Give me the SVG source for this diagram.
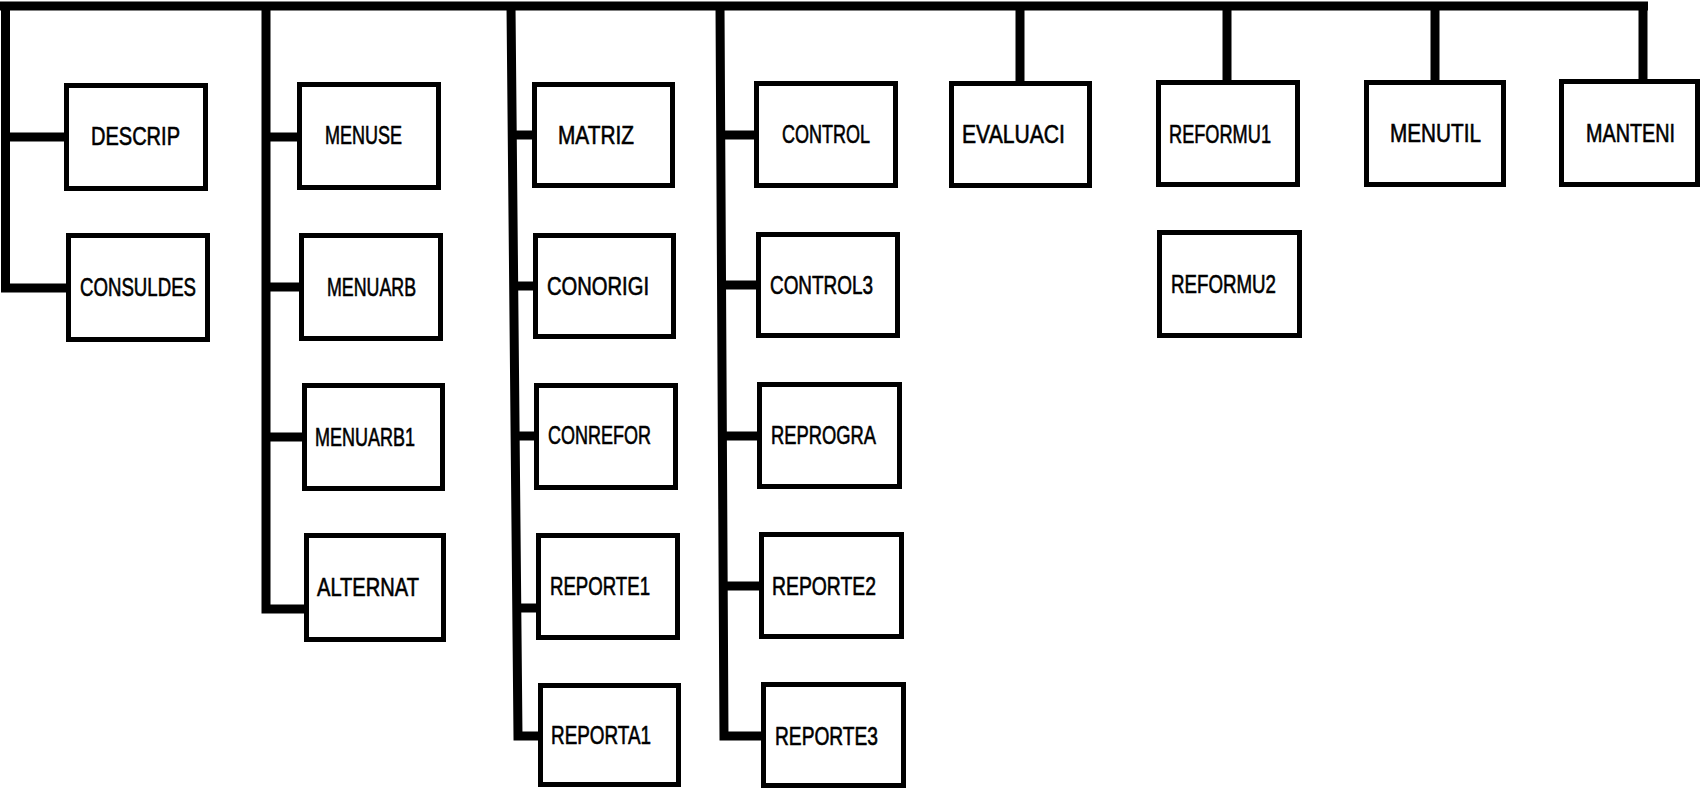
<svg xmlns="http://www.w3.org/2000/svg" width="1701" height="790" viewBox="0 0 1701 790">
<style>
.bg{fill:#fff}
.box rect{fill:#fff;stroke:#000;stroke-width:5}
.box text{font-family:"Liberation Sans",Arial,sans-serif;font-size:25px;fill:#000;stroke:#000;stroke-width:0.6}
.conn path{fill:none;stroke:#000;stroke-width:9;stroke-linejoin:miter;stroke-linecap:butt}
</style>
<rect class="bg" x="0" y="0" width="1701" height="790"/>
<g id="connectors" class="conn">
<path d="M0,6 H1648"/>
<path d="M5.5,6 V288 H66"/>
<path d="M5.5,137 H64"/>
<path d="M266,6 V609 H304"/>
<path d="M266,137 H297"/>
<path d="M266,287 H299"/>
<path d="M266,437 H302"/>
<path d="M511,6 L518,736 H538"/>
<path d="M511,135 H532"/>
<path d="M512,286 H533"/>
<path d="M514,436 H534"/>
<path d="M516,608 H536"/>
<path d="M720,6 L724,736 H761"/>
<path d="M720,135 H754"/>
<path d="M721,285 H756"/>
<path d="M722,436 H757"/>
<path d="M723,586 H759"/>
<path d="M1020,6 V81"/>
<path d="M1227,6 V80"/>
<path d="M1435,6 V80"/>
<path d="M1643,6 V79"/>
</g>
<g id="DESCRIP" class="box"><rect x="66.5" y="85.5" width="139" height="103"/><text x="91" y="145" textLength="89" lengthAdjust="spacingAndGlyphs">DESCRIP</text></g>
<g id="CONSULDES" class="box"><rect x="68.5" y="235.5" width="139" height="104"/><text x="80" y="296" textLength="116" lengthAdjust="spacingAndGlyphs">CONSULDES</text></g>
<g id="MENUSE" class="box"><rect x="299.5" y="84.5" width="139" height="103"/><text x="325" y="144" textLength="77" lengthAdjust="spacingAndGlyphs">MENUSE</text></g>
<g id="MENUARB" class="box"><rect x="301.5" y="235.5" width="139" height="103"/><text x="327" y="296" textLength="89" lengthAdjust="spacingAndGlyphs">MENUARB</text></g>
<g id="MENUARB1" class="box"><rect x="304.5" y="385.5" width="138" height="103"/><text x="315" y="446" textLength="100" lengthAdjust="spacingAndGlyphs">MENUARB1</text></g>
<g id="ALTERNAT" class="box"><rect x="306.5" y="535.5" width="137" height="104"/><text x="317" y="596" textLength="102" lengthAdjust="spacingAndGlyphs">ALTERNAT</text></g>
<g id="MATRIZ" class="box"><rect x="534.5" y="84.5" width="138" height="101"/><text x="558" y="144" textLength="76" lengthAdjust="spacingAndGlyphs">MATRIZ</text></g>
<g id="CONORIGI" class="box"><rect x="535.5" y="235.5" width="138" height="101"/><text x="547" y="295" textLength="102" lengthAdjust="spacingAndGlyphs">CONORIGI</text></g>
<g id="CONREFOR" class="box"><rect x="536.5" y="385.5" width="139" height="102"/><text x="548" y="444" textLength="103" lengthAdjust="spacingAndGlyphs">CONREFOR</text></g>
<g id="REPORTE1" class="box"><rect x="538.5" y="535.5" width="139" height="102"/><text x="550" y="595" textLength="100" lengthAdjust="spacingAndGlyphs">REPORTE1</text></g>
<g id="REPORTA1" class="box"><rect x="540.5" y="685.5" width="138" height="99"/><text x="551" y="744" textLength="100" lengthAdjust="spacingAndGlyphs">REPORTA1</text></g>
<g id="CONTROL" class="box"><rect x="756.5" y="83.5" width="139" height="102"/><text x="782" y="143" textLength="88" lengthAdjust="spacingAndGlyphs">CONTROL</text></g>
<g id="CONTROL3" class="box"><rect x="758.5" y="234.5" width="139" height="101"/><text x="770" y="294" textLength="103" lengthAdjust="spacingAndGlyphs">CONTROL3</text></g>
<g id="REPROGRA" class="box"><rect x="759.5" y="384.5" width="140" height="102"/><text x="771" y="444" textLength="105" lengthAdjust="spacingAndGlyphs">REPROGRA</text></g>
<g id="REPORTE2" class="box"><rect x="761.5" y="534.5" width="140" height="102"/><text x="772" y="595" textLength="104" lengthAdjust="spacingAndGlyphs">REPORTE2</text></g>
<g id="REPORTE3" class="box"><rect x="763.5" y="684.5" width="140" height="101"/><text x="775" y="745" textLength="103" lengthAdjust="spacingAndGlyphs">REPORTE3</text></g>
<g id="EVALUACI" class="box"><rect x="951.5" y="83.5" width="138" height="102"/><text x="962" y="143" textLength="103" lengthAdjust="spacingAndGlyphs">EVALUACI</text></g>
<g id="REFORMU1" class="box"><rect x="1158.5" y="82.5" width="139" height="102"/><text x="1169" y="143" textLength="102" lengthAdjust="spacingAndGlyphs">REFORMU1</text></g>
<g id="REFORMU2" class="box"><rect x="1159.5" y="232.5" width="140" height="103"/><text x="1171" y="293" textLength="105" lengthAdjust="spacingAndGlyphs">REFORMU2</text></g>
<g id="MENUTIL" class="box"><rect x="1366.5" y="82.5" width="137" height="102"/><text x="1390" y="142" textLength="91" lengthAdjust="spacingAndGlyphs">MENUTIL</text></g>
<g id="MANTENI" class="box"><rect x="1561.5" y="81.5" width="136" height="103"/><text x="1586" y="142" textLength="89" lengthAdjust="spacingAndGlyphs">MANTENI</text></g>
</svg>
